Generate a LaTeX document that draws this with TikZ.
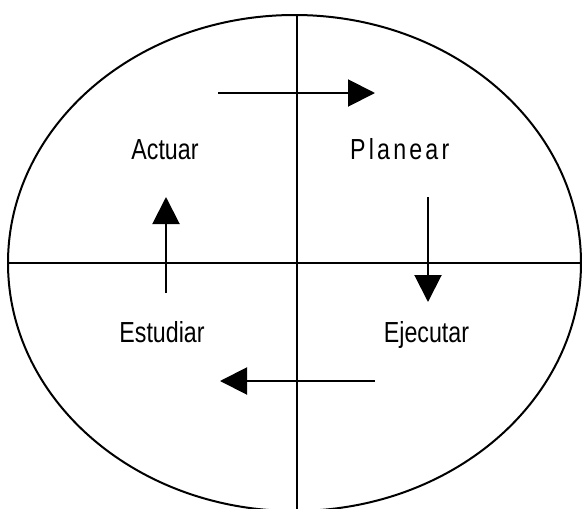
\documentclass[tikz,border=0pt]{standalone}
\usepackage{fontspec}
\setmainfont{Liberation Sans}
\newfontfamily\narrowfont[FakeStretch=0.8]{Liberation Sans}
\usetikzlibrary{arrows.meta}
\tikzset{
  axisline/.style={line width=2pt, black},
  flowarrow/.style={line width=2pt, -{Triangle[length=27pt,width=27pt]}},
  stagelabel/.style={font=\narrowfont\fontsize{29}{32}\selectfont, inner sep=0pt, anchor=base}
}
\begin{document}
\begin{tikzpicture}[x=1pt,y=-1pt]
\useasboundingbox (0,0) rectangle (582,509);
\begin{scope}
\clip (0,0) rectangle (582,509);
\draw[axisline] (294.5,263) ellipse [x radius=286.5, y radius=248];
\coordinate (vtop) at (297,15);
\coordinate (vbot) at (297,512);
\coordinate (hleft) at (8,263);
\coordinate (hright) at (584,263);
\draw[axisline] (vtop) -- (vbot);
\draw[axisline] (hleft) -- (hright);
\end{scope}
\coordinate (a1s) at (218,93);  \coordinate (a1e) at (375,93);
\coordinate (a2s) at (428,197); \coordinate (a2e) at (428,302);
\coordinate (a3s) at (375,381); \coordinate (a3e) at (220,381);
\coordinate (a4s) at (166,293); \coordinate (a4e) at (166,197);
\draw[flowarrow] (a1s) -- (a1e);
\draw[flowarrow] (a2s) -- (a2e);
\draw[flowarrow] (a3s) -- (a3e);
\draw[flowarrow] (a4s) -- (a4e);
\node[stagelabel] (actuar) at (165,159) {Actuar};
\node[stagelabel, anchor=base west] (planear) at (350,159) {\addfontfeature{LetterSpace=11}Planear};
\node[stagelabel] (estudiar) at (162,342) {Estudiar};
\node[stagelabel] (ejecutar) at (426.5,342) {Ejecutar};
\end{tikzpicture}
\end{document}
